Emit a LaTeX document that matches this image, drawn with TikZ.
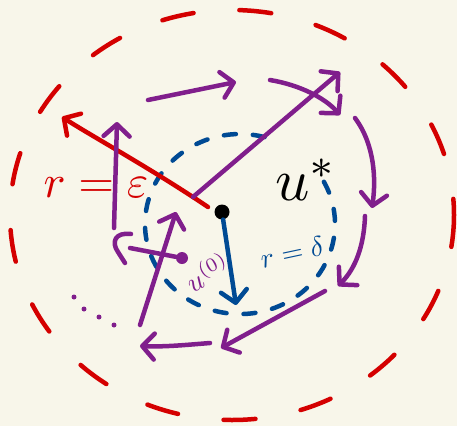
\documentclass[tikz,border=0pt]{standalone}
\usepackage{tikz}
\usetikzlibrary{arrows.meta,positioning}
\definecolor{paper}{RGB}{248,246,234}
\definecolor{inkred}{RGB}{212,0,0}
\definecolor{inkpurple}{RGB}{128,30,140}
\definecolor{inkblue}{RGB}{0,74,148}

\begin{document}
\begin{tikzpicture}[
  x=1pt, y=-1pt,
  line cap=round, line join=round,
  pen/.style={line width=4.5pt},
  barb/.style={-{Straight Barb[length=12pt,width=26pt,round]}},
  iter/.style={pen, inkpurple, barb},
  ring/.style={pen, inkred, dash pattern=on 32pt off 46pt},
  ball/.style={pen, inkblue, dash pattern=on 12pt off 17pt},
  dotmark/.style={circle, fill, inner sep=0pt, minimum size=15pt},
  seq/.style={circle, fill=inkpurple, inner sep=0pt, minimum size=5pt}
]
\fill[paper] (0,0) rectangle (457,426);
\useasboundingbox (0,0) rectangle (457,426);

% fixed point and labels
\node[dotmark] (ustar) at (222,212) {};
\node[scale=6] (ustarlbl) at (306,180) {$u^*$};
\node[inkred, scale=4.6] (epslbl) at (96,188) {$r=\varepsilon$};
\node[inkblue, scale=2.8, rotate=12] (deltalbl) at (292,252) {$r=\delta$};
\node[inkpurple, scale=2.8, rotate=28] (u0lbl) at (207,272) {$u^{(0)}$};

% neighbourhoods
\draw[ring] (232,215) ellipse [x radius=222, y radius=205];
\draw[ball] (264.6,137.1) arc [start angle=-75, end angle=-389, x radius=95, y radius=90];

% radii
\coordinate (epsstart) at (208,207);
\coordinate (epsend) at (62,117);
\draw[pen, inkred, barb] (epsstart) .. controls (150,168) and (95,138) .. (epsend);
\coordinate (deltaend) at (236,305);
\draw[pen, inkblue, barb] (ustar) -- (deltaend);

% starting point
\node[circle, fill=inkpurple, inner sep=0pt, minimum size=12pt] (u0) at (182,258) {};
\coordinate (u0tail) at (130,248);
\draw[pen, inkpurple] (u0tail) -- (u0);
\draw[pen, inkpurple] (131,234) .. controls (115,232) and (111,242) .. (118,252) -- (125,263);

% iterates
\coordinate (a1) at (140,325);  \coordinate (b1) at (176,212);
\coordinate (a2) at (114,228);  \coordinate (b2) at (117,122);
\coordinate (a3) at (148,100);  \coordinate (b3) at (236,82);
\coordinate (a4) at (270,80);   \coordinate (b4) at (340,115);
\coordinate (a5) at (355,118);  \coordinate (b5) at (372,208);
\coordinate (a6) at (365,216);  \coordinate (b6) at (338,286);
\coordinate (a7) at (325,291);  \coordinate (b7) at (221,348);
\coordinate (a8) at (210,343);  \coordinate (b8) at (140,346);
\draw[iter] (a1) -- (b1);
\draw[iter] (a2) -- (b2);
\draw[iter] (a3) -- (b3);
\draw[iter] (a4) .. controls (300,85) and (325,98) .. (b4);
\draw[iter] (a5) .. controls (375,145) and (376,180) .. (b5);
\draw[iter] (a6) .. controls (364,245) and (356,268) .. (b6);
\draw[iter] (a7) -- (b7);
\draw[iter] (a8) .. controls (185,345) and (165,347) .. (b8);
\coordinate (jump) at (340,72);
\draw[iter] (193,197) -- (jump);

% more iterates
\foreach \x/\y in {74/297, 84/309, 99/317, 114/325}
  \node[seq] at (\x,\y) {};

\end{tikzpicture}
\end{document}
